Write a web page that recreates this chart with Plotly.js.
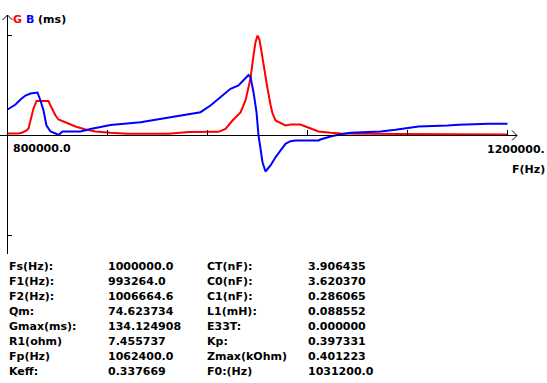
<!DOCTYPE html>
<html>
<head>
<meta charset="utf-8">
<script src="https://cdn.plot.ly/plotly-3.0.1.min.js"></script>
<style>html,body{margin:0;padding:0;background:#fff;}#chart{width:547px;height:383px;}</style>
</head>
<body>
<div id="chart"></div>
<script>
// ---- data ----
const freqG = [800000,808800,812000,815200,816800,818400,820800,823200,832800,834400,838400,840800,846400,854400,862400,870400,882400,896000,928800,936800,944800,968800,974400,980000,986400,990400,994400,996800,998400,1000000,1001600,1002400,1004800,1008000,1010400,1012000,1014400,1018400,1022400,1026400,1034400,1038400,1044000,1048800,1058400,1066400,1114400,1200000];
const G = [2.68,2.68,4.02,6.71,9.39,20.12,36.21,46.27,46.27,40.24,26.82,21.46,17.44,12.07,8.05,5.36,3.62,2.28,2.28,3.62,4.69,4.96,8.99,20.12,30.85,46.94,76.45,107.30,125.0,134.12,128.0,120.7,93.88,63.04,41.58,29.51,20.12,16.50,13.41,14.75,14.75,12.07,8.99,5.36,3.62,2.68,2.01,1.34];
const freqB = [800000,802400,806400,810400,814400,818400,822400,824000,826400,828800,831200,834400,838400,840800,844000,858400,866400,874400,882400,906400,930400,954400,962400,970400,978400,984800,988800,992800,994400,996800,999200,1000800,1002400,1004000,1006400,1008800,1010400,1014400,1018400,1022400,1026400,1030400,1048800,1050400,1058400,1066400,1074400,1082400,1098400,1110400,1120000,1128800,1152000,1160800,1184800,1200000];
const B = [34.87,37.55,41.58,48.28,53.65,56.33,57.67,57.67,46.94,33.53,13.41,5.36,2.68,0.67,5.36,5.36,8.72,11.13,14.08,17.84,24.14,31.25,40.24,50.97,62.63,67.06,73.77,81.14,78.19,58.07,31.25,0,-17.44,-35.81,-48.28,-44.26,-40.24,-29.10,-20.12,-11.13,-7.64,-6.71,-6.71,-5.36,-1.34,1.74,3.62,4.43,5.36,7.64,10.33,12.07,13.41,14.35,15.69,15.69];
const Gmax = 134.124908;
const fStart = 800000, fEnd = 1200000;
const xTickVals = [880000, 960000, 1040000, 1120000, 1200000];
const xStartLabel = "800000.0";
const xEndLabel = "1200000.";
const xTitle = "F(Hz)";
const labels1 = ["Fs(Hz):","F1(Hz):","F2(Hz):","Qm:","Gmax(ms):","R1(ohm)","Fp(Hz)","Keff:"];
const values1 = ["1000000.0","993264.0","1006664.6","74.623734","134.124908","7.455737","1062400.0","0.337669"];
const labels2 = ["CT(nF):","C0(nF):","C1(nF):","L1(mH):","E33T:","Kp:","Zmax(kOhm)","F0:(Hz)"];
const values2 = ["3.906435","3.620370","0.286065","0.088552","0.000000","0.397331","0.401223","1031200.0"];

// ---- layout helpers (pixel geometry) ----
const W = 547, H = 383;
const axX = 7.5, axY = 135.5;          // pixel position of the axes
const hzPerPx = (fEnd - fStart) / 500;
const msPerPx = Gmax / 100;
const px = x => x / W;
const py = y => 1 - y / H;
const FONT = "DejaVu Sans, Arial, sans-serif";

const traces = [
  {x: freqG, y: G, mode: "lines", line: {color: "#ff0000", width: 2}, hoverinfo: "skip"},
  {x: freqB, y: B, mode: "lines", line: {color: "#0000ff", width: 2}, hoverinfo: "skip"}
];

const black = {color: "#000", width: 1};
const shapes = [
  // horizontal axis
  {type: "line", xref: "paper", yref: "paper", x0: 0, x1: px(517), y0: py(axY), y1: py(axY), line: black},
  {type: "path", xref: "paper", yref: "paper", path: `M${px(512)},${py(130.5)} L${px(517)},${py(axY)} L${px(512)},${py(140.5)}`, line: black},
  // vertical axis
  {type: "line", xref: "paper", yref: "paper", x0: px(axX), x1: px(axX), y0: py(15), y1: py(254), line: black},
  {type: "path", xref: "paper", yref: "paper", path: `M${px(2.5)},${py(20)} L${px(axX)},${py(15)} L${px(12.5)},${py(20)}`, line: black}
];
xTickVals.forEach(v => shapes.push({type: "line", xref: "x", yref: "paper", x0: v, x1: v, y0: py(axY), y1: py(130), line: black}));
[Gmax, -Gmax].forEach(v => shapes.push({type: "line", xref: "paper", yref: "y", x0: px(axX), x1: px(12), y0: v, y1: v, line: black}));

const ann = [];
function txt(text, x, y, anchor) {
  ann.push({text: text, xref: "paper", yref: "paper", x: px(x), y: py(y), xanchor: anchor || "left", yanchor: "middle",
            showarrow: false, borderpad: 0, font: {family: FONT, size: 11, color: "#000", weight: "bold"}});
}
txt("<span style='color:#ff0000'>G</span> <span style='color:#0000ff'>B</span> (ms)", 12, 19);
txt(xStartLabel, 12, 148.5);
txt(xEndLabel, 546, 149.5, "right");
txt(xTitle, 546, 169.5, "right");
for (let i = 0; i < labels1.length; i++) {
  const y = 266.5 + 15 * i;
  txt(labels1[i], 8, y);
  txt(values1[i], 107, y);
  txt(labels2[i], 206, y);
  txt(values2[i], 307, y);
}

const layout = {
  width: W, height: H, autosize: false,
  margin: {l: 0, r: 0, t: 0, b: 0, pad: 0},
  paper_bgcolor: "#fff", plot_bgcolor: "#fff",
  showlegend: false,
  xaxis: {range: [fStart - axX * hzPerPx, fStart + (W - axX) * hzPerPx], visible: false, fixedrange: true},
  yaxis: {range: [-(H - axY) * msPerPx, axY * msPerPx], visible: false, fixedrange: true},
  shapes: shapes,
  annotations: ann,
  font: {family: FONT}
};
Plotly.newPlot("chart", traces, layout, {staticPlot: true, displayModeBar: false});
</script>
</body>
</html>
